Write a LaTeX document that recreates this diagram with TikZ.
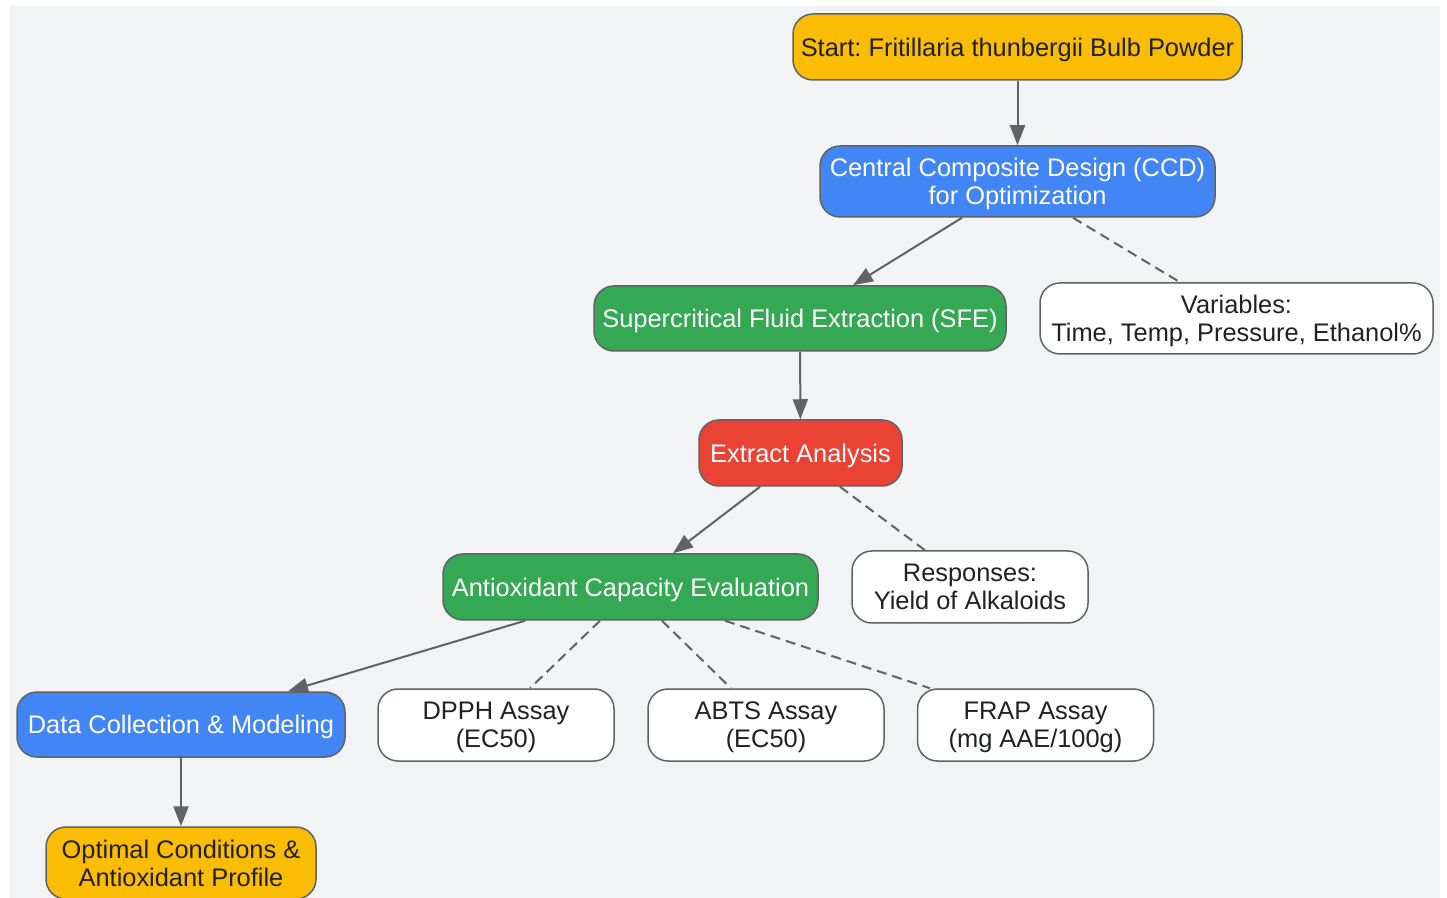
\documentclass[tikz,border=0pt]{standalone}
\usepackage{fontspec}
\setmainfont{Liberation Sans}
\usepackage{tikz}
\usetikzlibrary{arrows.meta,positioning,backgrounds,calc}
\definecolor{sunflower}{HTML}{FBBC04}
\definecolor{azure}{HTML}{4285F4}
\definecolor{leaf}{HTML}{34A853}
\definecolor{tomato}{HTML}{EA4335}
\definecolor{slate}{HTML}{5F6368}
\definecolor{paper}{HTML}{F1F3F4}
\definecolor{ink}{HTML}{202124}
\frenchspacing

\begin{document}
\begin{tikzpicture}[x=0.5pt, y=-0.5pt, myarrow/.style={-{Triangle[length=10pt,width=7.5pt]}}]
    \tikzstyle{box}=[rectangle,rounded corners=10pt,draw=slate,line width=0.75pt,align=center,inner sep=0pt,text depth=-1.5pt]
    \tikzstyle{start box}=[box,fill=sunflower,text=ink];
    \tikzstyle{design box}=[box,fill=azure,text=white];
    \tikzstyle{process box}=[box,fill=leaf,text=white];
    \tikzstyle{analysis box}=[box,fill=tomato,text=white];
    \tikzstyle{note box}=[box,fill=white,text=ink,minimum width=118pt,minimum height=36pt];
    \tikzstyle{link}=[draw=slate,line width=1pt];
    \tikzstyle{soft link}=[link,dash pattern=on 5pt off 3pt];
    \fontsize{12.7pt}{14pt}\selectfont
    \useasboundingbox (0,0) rectangle (1447,898);
    \fill[paper] (10,6) rectangle (1440,898);

    % Draw the nodes
    \node[start box, minimum width=224.5pt, minimum height=33pt] (start) at (1017.5,47) {Start: Fritillaria thunbergii Bulb Powder};
    \node[design box, minimum width=197.5pt, minimum height=35.5pt] (ccd) at (1017.5,181.5) {Central Composite Design (CCD)\\for Optimization};
    \node[process box, minimum width=206pt, minimum height=32.5pt] (sfe) at (800,318.5) {Supercritical Fluid Extraction (SFE)};
    \node[note box, minimum width=196.5pt, minimum height=35.5pt] (vars) at (1236.5,318.5) {Variables:\\Time, Temp, Pressure, Ethanol\%};
    \node[analysis box, minimum width=101.5pt, minimum height=33pt] (extract) at (800.5,453) {Extract Analysis};
    \node[process box, minimum width=187.5pt, minimum height=33pt] (antiox) at (630.5,587) {Antioxidant Capacity Evaluation};
    \node[note box] (resp) at (970,587) {Responses:\\Yield of Alkaloids};
    \node[design box, minimum width=164pt, minimum height=32.5pt] (data) at (181,724.5) {Data Collection \& Modeling};
    \node[note box] (dpph) at (496,725) {DPPH Assay\\(EC50)};
    \node[note box] (abts) at (766,725) {ABTS Assay\\(EC50)};
    \node[note box] (frap) at (1035.5,725) {FRAP Assay\\(mg AAE/100g)};
    \node[start box, minimum width=135pt, minimum height=36pt] (optimal) at (181,863) {Optimal Conditions \&\\Antioxidant Profile};

    % Connect the nodes
    \draw [link,myarrow] (start) -- (ccd);
    \draw [link,myarrow] ([xshift=-27.75pt]ccd.south) -- ([xshift=26.5pt]sfe.north);
    \draw [soft link] ([xshift=27.75pt]ccd.south) -- ([xshift=-28.25pt]vars.north);
    \draw [link,myarrow] (sfe) -- (extract);
    \draw [link,myarrow] ([xshift=-20.25pt]extract.south) -- ([xshift=21.25pt]antiox.north);
    \draw [soft link] ([xshift=19.75pt]extract.south) -- ([xshift=-22.5pt]resp.north);
    \draw [link,myarrow] ([xshift=-52.75pt]antiox.south) -- ([xshift=53.5pt]data.north);

    \foreach \dest/\from/\to in {dpph/-15.25/17, abts/15.75/-17.5, frap/47.25/-52.75}
        \draw [soft link] ([xshift=\from pt]antiox.south) -- ([xshift=\to pt]\dest.north);

    \draw [link,myarrow] (data) -- (optimal);
\end{tikzpicture}
\end{document}
